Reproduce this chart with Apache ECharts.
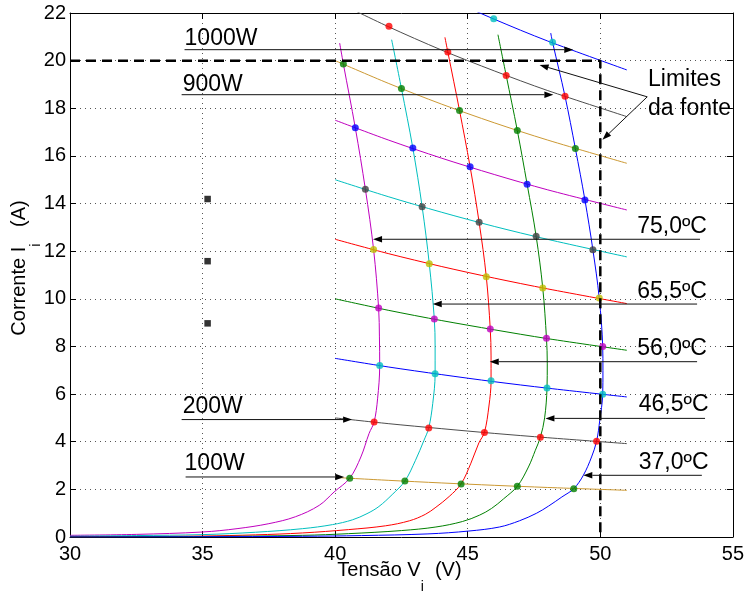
<!DOCTYPE html>
<html>
<head>
<meta charset="utf-8">
<script src="https://cdn.jsdelivr.net/npm/echarts@6/dist/echarts.min.js"></script>
<style>
html,body{margin:0;padding:0;background:#fff;}
#c{width:747px;height:592px;}
</style>
</head>
<body>
<div id="c"></div>
<script>
// ---------- DATA ----------
const xTicks = [30, 35, 40, 45, 50, 55];
const yTicks = [0, 2, 4, 6, 8, 10, 12, 14, 16, 18, 20, 22];

const tempLabels = ['75,0ºC', '65,5ºC', '56,0ºC', '46,5ºC', '37,0ºC'];

// I-V curves [V, I]
const curve75 = [[30,0.07],[32.5,0.11],[35,0.21],[36.3,0.35],[37.5,0.56],[38.5,0.85],[39.4,1.33],[39.96,1.89],[40.55,2.47],[40.97,3.36],[41.28,4.35],[41.47,4.83],[41.6,5.8],[41.68,7.2],[41.67,8.4],[41.64,9.61],[41.45,12.07],[41.14,14.6],[40.76,17.18],[40.31,19.86],[40.17,20.74]];
const curve65 = [[30,0.03],[32.5,0.06],[35,0.1],[37,0.2],[38.77,0.35],[39.9,0.52],[40.65,0.72],[41.2,0.98],[41.65,1.28],[42.15,1.78],[42.63,2.35],[43.03,3.22],[43.35,4.06],[43.53,4.58],[43.68,5.6],[43.77,6.85],[43.77,8.0],[43.74,9.15],[43.55,11.47],[43.28,13.87],[42.93,16.33],[42.5,18.83],[42.13,20.88]];
const curve56 = [[30,0.01],[33,0.02],[35,0.04],[37,0.09],[38.77,0.17],[40.5,0.31],[41.9,0.47],[42.8,0.68],[43.4,0.95],[43.8,1.25],[44.3,1.7],[44.75,2.23],[45.12,3.1],[45.42,3.95],[45.63,4.39],[45.8,5.5],[45.88,6.56],[45.88,7.6],[45.85,8.73],[45.7,10.93],[45.43,13.21],[45.09,15.54],[44.69,17.91],[44.25,20.36],[44.14,20.98]];
const curve46 = [[30,0.005],[35,0.02],[38.77,0.07],[40.5,0.14],[42.5,0.27],[43.8,0.42],[44.8,0.65],[45.45,0.92],[45.9,1.2],[46.35,1.6],[46.87,2.13],[47.29,2.94],[47.55,3.64],[47.74,4.19],[47.9,5.0],[47.99,6.26],[48.0,7.3],[47.97,8.34],[47.83,10.45],[47.58,12.63],[47.24,14.81],[46.87,17.07],[46.45,19.38],[46.14,21.09]];
const curve37 = [[30,0.0],[35,0.01],[38.77,0.03],[41,0.06],[43.5,0.13],[45.04,0.25],[46.2,0.42],[46.95,0.68],[47.6,1.0],[48.05,1.3],[48.55,1.68],[49.0,2.03],[49.36,2.59],[49.67,3.36],[49.86,4.02],[49.98,4.9],[50.09,5.99],[50.1,7.0],[50.09,8.0],[49.96,10.03],[49.72,12.06],[49.42,14.15],[49.06,16.31],[48.67,18.5],[48.2,20.77],[48.13,21.16]];

// constant-power lines: current read at these voltages
const powerLabels = ['100W','200W','300W','400W','500W','600W','700W','800W','900W','1000W'];
const powerV = [40, 42, 44, 46, 48, 51];
const powerI = [
  [2.50, 2.38, 2.27, 2.17, 2.08, 1.96],
  [5.00, 4.76, 4.55, 4.35, 4.17, 3.92],
  [7.50, 7.14, 6.82, 6.52, 6.25, 5.88],
  [10.00, 9.52, 9.09, 8.70, 8.33, 7.84],
  [12.50, 11.90, 11.36, 10.87, 10.42, 9.80],
  [15.00, 14.29, 13.64, 13.04, 12.50, 11.76],
  [17.50, 16.67, 15.91, 15.22, 14.58, 13.73],
  [20.00, 19.05, 18.18, 17.39, 16.67, 15.69],
  [22.50, 21.43, 20.45, 19.57, 18.75, 17.65],
  [25.00, 23.81, 22.73, 21.74, 20.83, 19.61]
];

// operating-point markers on each power line [V, I]
const markers100 = [[40.55,2.47],[42.63,2.35],[44.75,2.23],[46.87,2.13],[49.0,2.03]];
const markers200 = [[41.47,4.83],[43.53,4.58],[45.63,4.39],[47.74,4.19],[49.86,4.02]];
const markers300 = [[41.68,7.2],[43.77,6.85],[45.88,6.56],[47.99,6.26],[50.09,5.99]];
const markers400 = [[41.64,9.61],[43.74,9.15],[45.85,8.73],[47.97,8.34],[50.09,8.0]];
const markers500 = [[41.45,12.07],[43.55,11.47],[45.7,10.93],[47.83,10.45],[49.96,10.03]];
const markers600 = [[41.14,14.6],[43.28,13.87],[45.43,13.21],[47.58,12.63],[49.72,12.06]];
const markers700 = [[40.76,17.18],[42.93,16.33],[45.09,15.54],[47.24,14.81],[49.42,14.15]];
const markers800 = [[40.31,19.86],[42.5,18.83],[44.69,17.91],[46.87,17.07],[49.06,16.31]];
const markers900 = [[42.03,21.44],[44.25,20.36],[46.45,19.38],[48.67,18.5]];
const markers1000 = [[45.98,21.76],[48.2,20.77]];

// source limits (V, I)
const limitV = 50;
const limitI = 20;

// stray black squares
const squares = [[35.19,14.19],[35.19,11.58],[35.19,8.97]];

// ---------- STYLES ----------
const curveColors = ['#bf00bf','#00bfbf','#ff0000','#008000','#0000ff'];
const powerColors = ['#cc9933','#4d4d4d','#0000ff','#008000','#ff0000','#00bfbf','#bf00bf','#cc9933','#4d4d4d','#0000ff'];
const markerColors = ['#008000','#ff0000','#00bfbf','#bf00bf','#bfbf00','#404040','#0000ff','#008000','#ff0000','#00bfbf'];
const FONT = '"Liberation Sans", Arial, Helvetica, sans-serif';

// annotation texts (data coordinates of left / middle of text)
const annTexts = [
  ['1000W', 34.32, 20.93], ['900W', 34.25, 19.0], ['200W', 34.25, 5.46], ['100W', 34.32, 3.07],
  [tempLabels[0], 51.39, 13.03], [tempLabels[1], 51.39, 10.3], [tempLabels[2], 51.39, 7.9],
  [tempLabels[3], 51.45, 5.55], [tempLabels[4], 51.45, 3.11],
  ['Limites', 51.8, 19.21], ['da fonte', 51.8, 17.99]
];
// annotation arrows: [from, tip] in data coordinates
const annArrows = [
  [[34.32,20.46],[48.98,20.46]], [[34.21,18.57],[48.23,18.57]],
  [[34.21,4.93],[40.64,4.93]], [[34.36,2.52],[40.34,2.52]],
  [[53.76,12.5],[41.43,12.5]], [[53.65,9.78],[43.68,9.78]], [[53.65,7.36],[45.83,7.36]],
  [[53.95,4.98],[47.93,4.98]], [[53.83,2.59],[49.36,2.59]],
  [[51.77,18.48],[47.71,19.82]], [[51.77,18.48],[50.08,16.68]]
];

// ---------- OPTION ----------
const curves = [curve75, curve65, curve56, curve46, curve37];
const markerSets = [markers100, markers200, markers300, markers400, markers500, markers600, markers700, markers800, markers900, markers1000];

const series = [];
curves.forEach((c, i) => {
  series.push({
    type: 'line', name: tempLabels[i], data: c, showSymbol: false, symbol: 'none',
    smooth: 0.35,
    lineStyle: { color: curveColors[i], width: 1 }, z: 2, silent: true
  });
});
powerI.forEach((arr, i) => {
  series.push({
    type: 'line', name: powerLabels[i], data: powerV.map((v, k) => [v, arr[k]]),
    showSymbol: false, symbol: 'none', smooth: 0.3,
    lineStyle: { color: powerColors[i], width: 1 }, z: 3, silent: true
  });
});
markerSets.forEach((m, i) => {
  series.push({
    type: 'scatter', data: m, symbol: 'circle', symbolSize: 7,
    itemStyle: { color: markerColors[i] }, z: 4, silent: true
  });
});
series.push({
  type: 'line', data: [[xTicks[0], limitI], [limitV, limitI], [limitV, yTicks[0]]],
  showSymbol: false, symbol: 'none',
  lineStyle: { color: '#000', width: 2.5, type: [10, 6] }, z: 5, silent: true
});
series.push({
  type: 'scatter', data: squares, symbol: 'rect', symbolSize: 6.5,
  itemStyle: { color: '#000' }, z: 4, silent: true
});

const axisCommon = {
  type: 'value',
  axisLine: { show: true, onZero: false, lineStyle: { color: '#000', width: 1 } },
  axisTick: { show: true, inside: true, length: 6, lineStyle: { color: '#000' } }
};

const option = {
  animation: false,
  backgroundColor: '#fff',
  grid: { left: 70, right: 12, top: 13, bottom: 55, containLabel: false },
  xAxis: [
    Object.assign({}, axisCommon, {
      min: xTicks[0], max: xTicks[xTicks.length - 1], interval: 5, position: 'bottom',
      axisLabel: { fontSize: 20, color: '#000', margin: 7, fontFamily: FONT },
      splitLine: { show: true, lineStyle: { color: '#555', width: 1, type: [1, 4] } }
    }),
    Object.assign({}, axisCommon, {
      min: xTicks[0], max: xTicks[xTicks.length - 1], interval: 5, position: 'top',
      axisLabel: { show: false }, splitLine: { show: false }
    })
  ],
  yAxis: [
    Object.assign({}, axisCommon, {
      min: yTicks[0], max: yTicks[yTicks.length - 1], interval: 2, position: 'left',
      axisLabel: { fontSize: 20, color: '#000', margin: 4, fontFamily: FONT },
      splitLine: { show: true, lineStyle: { color: '#555', width: 1, type: [1, 4] } }
    }),
    Object.assign({}, axisCommon, {
      min: yTicks[0], max: yTicks[yTicks.length - 1], interval: 2, position: 'right',
      axisLabel: { show: false }, splitLine: { show: false }
    })
  ],
  series: series
};

const chart = echarts.init(document.getElementById('c'));
chart.setOption(option);

// ---------- ANNOTATIONS (placed through the axes) ----------
function px(p) { return chart.convertToPixel({ gridIndex: 0 }, p); }
const g = [];
annArrows.forEach(a => {
  const p1 = px(a[0]), p2 = px(a[1]);
  const dx = p2[0] - p1[0], dy = p2[1] - p1[1];
  const len = Math.hypot(dx, dy), ux = dx / len, uy = dy / len;
  const L = 9, W = 3.2;
  const bx = p2[0] - ux * L, by = p2[1] - uy * L;
  g.push({ type: 'line', z: 20, silent: true,
    shape: { x1: p1[0], y1: p1[1], x2: bx, y2: by },
    style: { stroke: '#111', lineWidth: 1 } });
  g.push({ type: 'polygon', z: 20, silent: true,
    shape: { points: [[p2[0], p2[1]], [bx - uy * W, by + ux * W], [bx + uy * W, by - ux * W]] },
    style: { fill: '#000' } });
});
annTexts.forEach(t => {
  const p = px([t[1], t[2]]);
  g.push({ type: 'text', x: p[0], y: p[1], z: 21, silent: true,
    style: { text: t[0], fontSize: 23, fontFamily: FONT, fill: '#000', align: 'left', verticalAlign: 'middle' } });
});
// axis titles
const richTitle = {
  a: { fontSize: 20, fontFamily: FONT, color: '#000', lineHeight: 24, verticalAlign: 'top' },
  b: { fontSize: 14, fontFamily: FONT, color: '#000', lineHeight: 14, verticalAlign: 'top', padding: [20, 0, 0, 0] }
};
const xMid = px([(xTicks[0] + xTicks[xTicks.length - 1]) / 2, yTicks[0]]);
g.push({ type: 'text', x: xMid[0] - 2, y: 560, z: 21, silent: true,
  style: { text: '{a|Tensão V}{b|i}{a|  (V)}', rich: richTitle, align: 'center', verticalAlign: 'top' } });
g.push({ type: 'text', x: 9, y: 268, rotation: Math.PI / 2, z: 21, silent: true,
  style: { text: '{a|Corrente I}{b|i}{a|   (A)}', rich: richTitle, align: 'center', verticalAlign: 'top' } });

chart.setOption({ graphic: g });
</script>
</body>
</html>
